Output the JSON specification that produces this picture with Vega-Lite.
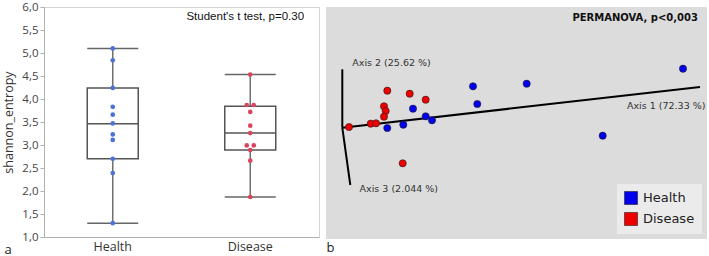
{
  "$schema": "https://vega.github.io/schema/vega-lite/v6.json",
  "padding": {"left": 2, "top": 0, "right": 0, "bottom": 0},
  "background": "white",
  "spacing": 7,
  "bounds": "flush",
  "datasets": {
    "dots": [
      {"group": "Health", "value": 5.10, "dup": 0},
      {"group": "Health", "value": 4.84, "dup": 0},
      {"group": "Health", "value": 4.24, "dup": 0},
      {"group": "Health", "value": 3.83, "dup": 0},
      {"group": "Health", "value": 3.66, "dup": 0},
      {"group": "Health", "value": 3.47, "dup": 0},
      {"group": "Health", "value": 3.23, "dup": 0},
      {"group": "Health", "value": 3.11, "dup": 0},
      {"group": "Health", "value": 2.70, "dup": 0},
      {"group": "Health", "value": 2.39, "dup": 0},
      {"group": "Health", "value": 1.30, "dup": 0},
      {"group": "Disease", "value": 4.53, "dup": 0},
      {"group": "Disease", "value": 3.87, "dup": -1},
      {"group": "Disease", "value": 3.87, "dup": 1},
      {"group": "Disease", "value": 3.72, "dup": 0},
      {"group": "Disease", "value": 3.42, "dup": 0},
      {"group": "Disease", "value": 3.26, "dup": 0},
      {"group": "Disease", "value": 2.99, "dup": -1},
      {"group": "Disease", "value": 2.99, "dup": 1},
      {"group": "Disease", "value": 2.89, "dup": 0},
      {"group": "Disease", "value": 2.66, "dup": 0},
      {"group": "Disease", "value": 1.87, "dup": 0}
    ],
    "boxes": [
      {"group": "Health", "min": 1.30, "q1": 2.70, "median": 3.46, "q3": 4.24, "max": 5.10},
      {"group": "Disease", "min": 1.87, "q1": 2.89, "median": 3.26, "q3": 3.84, "max": 4.53}
    ],
    "pcoa": [
      {"group": "Health", "pc1": 357, "pc2": 170.3},
      {"group": "Health", "pc1": 200.7, "pc2": 155.3},
      {"group": "Health", "pc1": 147, "pc2": 152.7},
      {"group": "Health", "pc1": 151.3, "pc2": 135},
      {"group": "Health", "pc1": 87, "pc2": 130.3},
      {"group": "Health", "pc1": 99.7, "pc2": 122.7},
      {"group": "Health", "pc1": 106, "pc2": 118.7},
      {"group": "Health", "pc1": 77.3, "pc2": 114.3},
      {"group": "Health", "pc1": 61.3, "pc2": 111},
      {"group": "Health", "pc1": 276.7, "pc2": 103.3},
      {"group": "Disease", "pc1": 61.3, "pc2": 148.3},
      {"group": "Disease", "pc1": 83.7, "pc2": 145.3},
      {"group": "Disease", "pc1": 99.7, "pc2": 139.3},
      {"group": "Disease", "pc1": 58, "pc2": 132.7},
      {"group": "Disease", "pc1": 59.7, "pc2": 128},
      {"group": "Disease", "pc1": 58, "pc2": 122.3},
      {"group": "Disease", "pc1": 44.7, "pc2": 115.3},
      {"group": "Disease", "pc1": 50, "pc2": 115.7},
      {"group": "Disease", "pc1": 23, "pc2": 112},
      {"group": "Disease", "pc1": 76.7, "pc2": 75.7}
    ],
    "axes3d": [
      {"axis": "Axis 1", "x": 16.3, "y": 111.3, "x2": 374, "y2": 152},
      {"axis": "Axis 2", "x": 16.3, "y": 111.3, "x2": 16.3, "y2": 169.7},
      {"axis": "Axis 3", "x": 16.3, "y": 111.3, "x2": 24.3, "y2": 54}
    ],
    "axislabels": [
      {"label": "Axis 1 (72.33 %)", "x": 301, "y": 133},
      {"label": "Axis 2 (25.62 %)", "x": 26.3, "y": 176},
      {"label": "Axis 3 (2.044 %)", "x": 33.6, "y": 50}
    ]
  },
  "hconcat": [
    {
      "width": 275,
      "height": 230,
      "view": {"stroke": "#d4d4d4", "strokeWidth": 1},
      "encoding": {
        "x": {
          "field": "group",
          "type": "nominal",
          "sort": ["Health", "Disease"],
          "scale": {"type": "band", "paddingInner": 0, "paddingOuter": 0},
          "axis": {
            "labelAngle": 0,
            "ticks": false,
            "labelFont": "Open Sans",
            "labelFontSize": 12.5,
            "labelColor": "#333",
            "labelPadding": 3,
            "domainColor": "#b0b0b0",
            "title": "a",
            "titleFont": "Open Sans",
            "titleFontSize": 13,
            "titleFontWeight": "normal",
            "titleColor": "#222",
            "titleAlign": "left",
            "titleBaseline": "middle",
            "titleAnchor": "start",
            "titleX": -40,
            "titleY": 12
          }
        },
        "y": {
          "type": "quantitative",
          "title": "shannon_entropy",
          "scale": {"domain": [1, 6], "nice": false, "zero": false},
          "axis": {
            "values": [1, 1.5, 2, 2.5, 3, 3.5, 4, 4.5, 5, 5.5, 6],
            "labelOverlap": false,
            "labelExpr": "replace(format(datum.value, '.1f'), '.', ',')",
            "title": "shannon_entropy"
          }
        }
      },
      "layer": [
        {
          "data": {"name": "boxes"},
          "mark": {"type": "rule", "color": "#707070", "strokeWidth": 1.5},
          "encoding": {
            "y": {"field": "min"},
            "y2": {"field": "max"}
          }
        },
        {
          "data": {"name": "boxes"},
          "mark": {"type": "bar", "width": 51, "fill": "white", "stroke": "#555", "strokeWidth": 1.5},
          "encoding": {
            "y": {"field": "q1"},
            "y2": {"field": "q3"}
          }
        },
        {
          "data": {"name": "boxes"},
          "mark": {"type": "tick", "size": 51, "thickness": 1.5, "color": "#555", "opacity": 1},
          "encoding": {"y": {"field": "median"}}
        },
        {
          "data": {"name": "boxes"},
          "mark": {"type": "tick", "size": 51, "thickness": 1.5, "color": "#666", "opacity": 1},
          "encoding": {"y": {"field": "min"}}
        },
        {
          "data": {"name": "boxes"},
          "mark": {"type": "tick", "size": 51, "thickness": 1.5, "color": "#666", "opacity": 1},
          "encoding": {"y": {"field": "max"}}
        },
        {
          "data": {"name": "dots"},
          "mark": {"type": "circle", "size": 22, "opacity": 1},
          "encoding": {
            "y": {"field": "value"},
            "xOffset": {"field": "dup", "type": "quantitative", "scale": {"domain": [-1, 1], "range": [65.25, 72.25]}},
            "color": {
              "field": "group",
              "type": "nominal",
              "scale": {"domain": ["Health", "Disease"], "range": ["#4a72d8", "#d9455f"]},
              "legend": null
            }
          }
        },
        {
          "data": {"values": [{"group": "Disease", "value": 5.78, "text": "Student's t test, p=0.30"}]},
          "mark": {"type": "text", "font": "Liberation Sans", "fontSize": 11.5, "color": "#111", "align": "center", "dx": -5},
          "encoding": {
            "y": {"field": "value"},
            "text": {"field": "text"}
          }
        }
      ]
    },
    {
      "width": 381,
      "height": 232,
      "view": {"fill": "#dcdcdc", "stroke": null},
      "encoding": {
        "x": {
          "type": "quantitative",
          "scale": {"domain": [0, 381], "nice": false, "zero": false},
          "axis": {
            "domain": false, "ticks": false, "labels": false, "grid": false,
            "title": "b",
            "titleFont": "Open Sans",
            "titleFontSize": 13,
            "titleFontWeight": "normal",
            "titleColor": "#222",
            "titleAlign": "left",
            "titleBaseline": "middle",
            "titleAnchor": "start",
            "titleX": 0,
            "titleY": 8
          }
        },
        "y": {
          "type": "quantitative",
          "scale": {"domain": [0, 232], "nice": false, "zero": false},
          "axis": null
        }
      },
      "layer": [
        {
          "data": {"name": "axes3d"},
          "mark": {"type": "rule", "color": "#000", "strokeWidth": 2},
          "encoding": {
            "x": {"field": "x", "type": "quantitative"},
            "y": {"field": "y", "type": "quantitative"},
            "x2": {"field": "x2"},
            "y2": {"field": "y2"}
          }
        },
        {
          "data": {"name": "axislabels"},
          "mark": {"type": "text", "font": "DejaVu Sans", "fontSize": 9.5, "color": "#333", "align": "left", "baseline": "middle"},
          "encoding": {
            "x": {"field": "x", "type": "quantitative"},
            "y": {"field": "y", "type": "quantitative"},
            "text": {"field": "label"}
          }
        },
        {
          "data": {"values": [{"x": 372, "y": 221, "text": "PERMANOVA, p<0,003"}]},
          "mark": {"type": "text", "font": "DejaVu Sans", "fontSize": 10, "fontWeight": "bold", "color": "#111", "align": "right", "baseline": "middle"},
          "encoding": {
            "x": {"field": "x", "type": "quantitative"},
            "y": {"field": "y", "type": "quantitative"},
            "text": {"field": "text"}
          }
        },
        {
          "data": {"name": "pcoa"},
          "mark": {"type": "circle", "size": 52, "opacity": 1, "stroke": "#222", "strokeWidth": 0.6},
          "encoding": {
            "x": {"field": "pc1", "type": "quantitative"},
            "y": {"field": "pc2", "type": "quantitative"},
            "color": {
              "field": "group",
              "type": "nominal",
              "scale": {"domain": ["Health", "Disease"], "range": ["#0000ee", "#ee0000"]},
              "legend": {
                "title": null,
                "orient": "bottom-right",
                "offset": 5,
                "padding": 7,
                "fillColor": "#ebebeb",
                "symbolType": "square",
                "symbolSize": 170,
                "symbolStrokeColor": "#222",
                "symbolStrokeWidth": 0.6,
                "labelFont": "DejaVu Sans",
                "labelFontSize": 13,
                "labelColor": "#222",
                "labelOffset": 5,
                "rowPadding": 5
              }
            }
          }
        }
      ]
    }
  ],
  "resolve": {"scale": {"color": "independent"}, "legend": {"color": "independent"}},
  "config": {
    "axisY": {
      "labelFont": "Open Sans",
      "labelFontSize": 11.5,
      "labelColor": "#444",
      "tickColor": "#b0b0b0",
      "tickSize": 4,
      "domainColor": "#b0b0b0",
      "titleFont": "Open Sans",
      "titleFontSize": 12.5,
      "titleFontWeight": "normal",
      "titleColor": "#333",
      "titlePadding": 6,
      "grid": false
    }
  }
}
